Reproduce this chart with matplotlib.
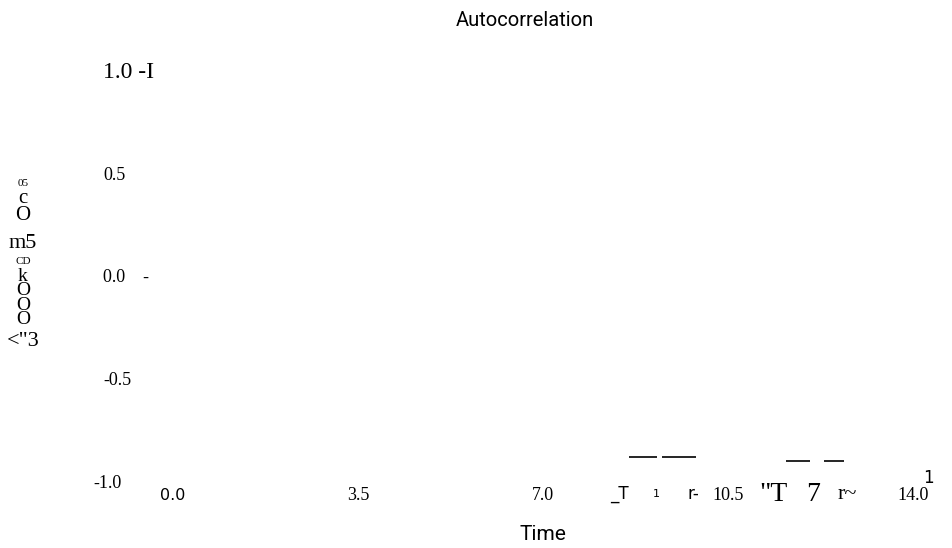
import matplotlib.pyplot as plt
from matplotlib import transforms

W, H = 953, 548

# axis ticks and their printed labels
lag_ticks = [0.0, 3.5, 7.0, 10.5, 14.0]
lag_labels = ["0.0", "3.5", "7.0", "10.5", "14.0"]
acf_ticks = [1.0, 0.5, 0.0, -0.5, -1.0]
acf_labels = ["1.0 -I", "0.5", "0.0    -", "-0.5", "-1.0"]

# short flat segments near the bottom of the range
seg_start = [8.63, 9.25, 11.60, 12.32]
seg_end = [9.16, 9.89, 12.05, 12.69]
seg_level = [-0.873, -0.873, -0.893, -0.893]

# stray glyphs printed under the lag axis
stray_text = ["_T", "1", "r-", "\"T", "7", "r~", "1"]
stray_lag = [8.45, 9.15, 9.85, 11.35, 12.1, 12.75, 14.3]
stray_size = [12, 8, 12, 20, 20, 16, 12]
stray_font = ["DejaVu Sans", "DejaVu Sans", "DejaVu Sans",
              "Liberation Serif", "Liberation Serif", "Liberation Serif",
              "DejaVu Sans"]

# vertical stack of characters used as the y label (grouped, top to bottom)
ylab_chars = ["05", "c\nO", "m5", "CD", "k\nO\nO\nO", "<\"3"]
ylab_y = [184, 207, 244, 262, 298, 342]
ylab_size = [8, 15, 16, 8, 14, 16]

fig = plt.figure(figsize=(W / 100, H / 100), dpi=100)
ax = fig.add_axes([173 / W, 65 / H, 740 / W, 410 / H])
ax.set_xlim(0, 14)
ax.set_ylim(-1, 1)
ax.axis("off")

for a, b, lv in zip(seg_start, seg_end, seg_level):
    ax.plot([a, b], [lv, lv], color="black", lw=1.2, solid_capstyle="butt")

ty = transforms.blended_transform_factory(ax.transAxes, ax.transData)
for v, lab in zip(acf_ticks, acf_labels):
    x0 = -0.108 if v == -1.0 else -0.094
    size = 17 if v == 1.0 else 13
    ax.text(x0, v, lab, transform=ty, ha="left", va="center",
            fontsize=size, family="Liberation Serif")

tx = transforms.blended_transform_factory(ax.transData, ax.transAxes)
for v, lab in zip(lag_ticks, lag_labels):
    fam = "DejaVu Sans" if v == 0.0 else "Liberation Serif"
    ax.text(v, -0.03, lab, transform=tx, ha="center", va="center",
            fontsize=11.5 if v == 0.0 else 13, family=fam)

for i, (s, v, sz, fam) in enumerate(zip(stray_text, stray_lag, stray_size, stray_font)):
    yy = 0.012 if i == len(stray_text) - 1 else -0.028
    ax.text(v, yy, s, transform=tx, ha="center", va="center",
            fontsize=sz, family=fam)
ax.plot([14.25], [-0.92], marker=".", ms=1.5, color="black")

for ch, yp, sz in zip(ylab_chars, ylab_y, ylab_size):
    fig.text(23 / W, 1 - yp / H, ch, ha="center", va="center",
             fontsize=sz, family="Liberation Serif", linespacing=0.8)

fig.text(525 / W, 1 - 20 / H, "Autocorrelation", ha="center", va="center",
         fontsize=14.5, family="Roboto")
fig.text(543 / W, 1 - 534 / H, "Time", ha="center", va="center",
         fontsize=15, family="Roboto")

fig.savefig("out.png", dpi=100)
